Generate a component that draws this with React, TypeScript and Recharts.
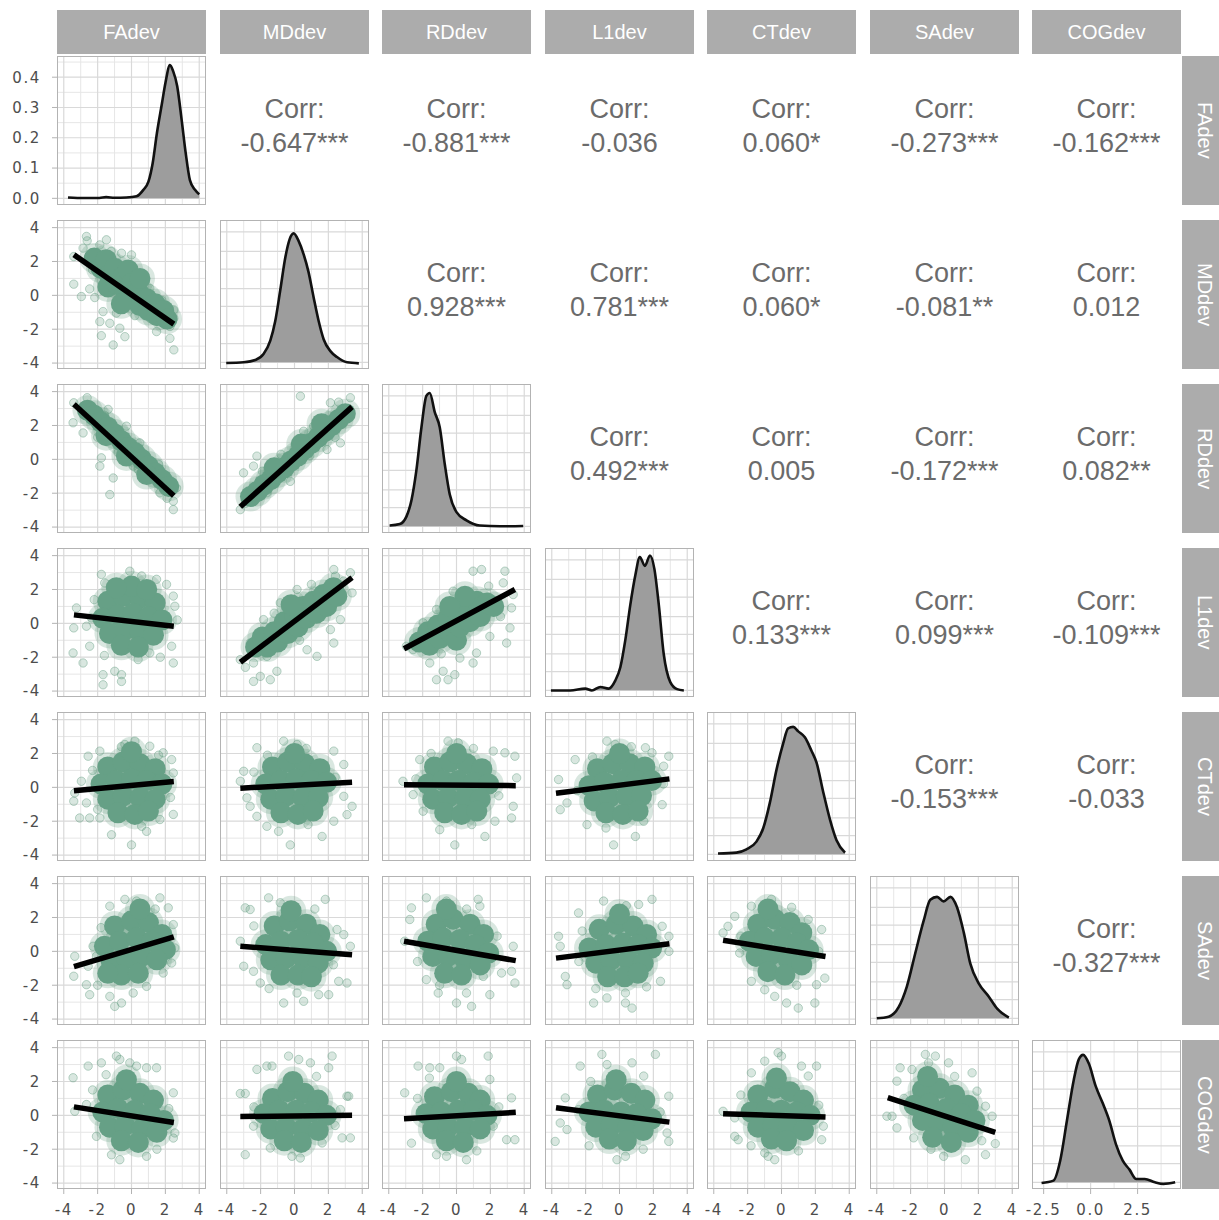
import React from 'react';
import { Area, ComposedChart, Line, ReferenceLine, Scatter, XAxis, YAxis } from 'recharts';

type Pt = [number, number];

const VARS = ['FAdev', 'MDdev', 'RDdev', 'L1dev', 'CTdev', 'SAdev', 'COGdev'];

// Corr labels of the upper triangle, one array per row
const CORR_ROW0 = ['-0.647***', '-0.881***', '-0.036', '0.060*', '-0.273***', '-0.162***'];
const CORR_ROW1 = ['0.928***', '0.781***', '0.060*', '-0.081**', '0.012'];
const CORR_ROW2 = ['0.492***', '0.005', '-0.172***', '0.082**'];
const CORR_ROW3 = ['0.133***', '0.099***', '-0.109***'];
const CORR_ROW4 = ['-0.153***', '-0.033'];
const CORR_ROW5 = ['-0.327***'];
const CORR_ROWS = [CORR_ROW0, CORR_ROW1, CORR_ROW2, CORR_ROW3, CORR_ROW4, CORR_ROW5];

const TICKS_DEV = [-4, -2, 0, 2, 4];
const TICKS_COG = [-2.5, 0, 2.5];
const TICKS_DENS = [0, 0.1, 0.2, 0.3, 0.4];

// densities on the diagonal (FAdev in real units, the others as share of panel height)
const DENS_FA: Pt[] = [[-3.75,0.003],[-2.8,0.001],[-1.9,0.001],[-1.5,0.004],[-1.0,0.002],[-0.3,0.003],[0.3,0.007],[0.7,0.028],[1.0,0.055],[1.25,0.116],[1.5,0.215],[1.8,0.314],[2.0,0.38],[2.27,0.44],[2.46,0.42],[2.7,0.37],[2.96,0.26],[3.2,0.15],[3.45,0.06],[3.75,0.028],[4.0,0.013]];
const DENS_MD: Pt[] = [[-4.03,0.04],[-3.0,0.045],[-2.32,0.06],[-1.83,0.1],[-1.43,0.19],[-1.14,0.32],[-0.84,0.53],[-0.54,0.75],[-0.29,0.87],[-0.05,0.91],[0.24,0.86],[0.54,0.77],[0.83,0.65],[1.13,0.48],[1.43,0.32],[1.72,0.2],[2.12,0.12],[2.51,0.08],[3.1,0.045],[3.8,0.038]];
const DENS_RD: Pt[] = [[-3.95,0.05],[-3.35,0.06],[-2.96,0.11],[-2.66,0.22],[-2.37,0.42],[-2.07,0.71],[-1.78,0.92],[-1.58,0.94],[-1.28,0.81],[-0.99,0.71],[-0.69,0.46],[-0.4,0.26],[0,0.14],[0.59,0.085],[1.38,0.05],[2.56,0.045],[3.94,0.047]];
const DENS_L1: Pt[] = [[-4.05,0.044],[-2.91,0.044],[-2.02,0.056],[-1.63,0.044],[-1.13,0.067],[-0.64,0.056],[-0.25,0.11],[0.05,0.2],[0.34,0.38],[0.64,0.62],[0.94,0.82],[1.2,0.94],[1.5,0.88],[1.8,0.95],[2.06,0.86],[2.32,0.62],[2.61,0.29],[3.0,0.1],[3.4,0.053],[3.8,0.044]];
const DENS_CT: Pt[] = [[-3.75,0.05],[-2.66,0.056],[-2.07,0.078],[-1.48,0.13],[-1.08,0.22],[-0.69,0.39],[-0.3,0.61],[0.1,0.79],[0.39,0.89],[0.69,0.9],[0.99,0.87],[1.38,0.83],[1.77,0.74],[2.07,0.66],[2.47,0.46],[2.86,0.28],[3.25,0.14],[3.75,0.056]];
const DENS_SA: Pt[] = [[-4.0,0.045],[-3.3,0.056],[-2.71,0.12],[-2.22,0.26],[-1.73,0.48],[-1.23,0.7],[-0.84,0.84],[-0.44,0.86],[-0.05,0.83],[0.35,0.86],[0.74,0.79],[1.14,0.62],[1.53,0.41],[2.02,0.28],[2.62,0.19],[3.11,0.11],[3.8,0.05]];
const DENS_COG: Pt[] = [[-2.61,0.04],[-1.98,0.056],[-1.62,0.19],[-1.26,0.46],[-0.9,0.73],[-0.63,0.87],[-0.4,0.9],[-0.09,0.84],[0.27,0.69],[0.63,0.58],[0.99,0.46],[1.35,0.3],[1.71,0.19],[2.07,0.13],[2.43,0.067],[2.88,0.067],[3.42,0.045],[3.87,0.034],[4.5,0.045]];

// scatter clouds: CORE = dense centre, PTS = loose points, FIT = lm line ends
const MD_FA_CORE: Pt[] = [[-2.2,2.2],[-1.8,1.6],[-1.5,2.1],[-1.3,1.2],[-1.4,0.5],[-1.0,1.6],[-0.9,0.7],[-0.5,1.1],[-0.4,0.3],[-0.2,1.5],[0,0.7],[0,-0.2],[0.4,0.2],[0.5,-0.6],[0.5,1.0],[0.9,-0.2],[1.0,-0.9],[1.4,-0.5],[1.5,-1.2],[1.9,-0.9],[2.1,-1.4],[-0.6,-0.5]];
const MD_FA_PTS: Pt[] = [[-2.66,3.48],[-2.62,3.22],[-1.48,3.28],[-1.87,2.98],[-3.41,2.29],[-2.86,2.79],[-3.41,0.66],[-2.96,-0.07],[-2.47,0.38],[-2.17,-0.13],[-0.59,2.49],[0,2.39],[-1.68,-0.96],[-1.87,-1.55],[-1.78,-2.38],[-1.08,-2.93],[-1.28,-1.65],[-0.69,-1.94],[-0.39,-2.44],[-0.89,-1.05],[1.08,-1.35],[1.48,-2.14],[2.27,-1.84],[2.27,-2.54],[2.5,-3.22],[2.5,-0.86],[2.5,-1.35],[1.08,0.42],[0.69,0.92],[-2.3,1.5],[-1.2,2.6],[1.8,-0.3],[0.2,-1.2]];
const MD_FA_FIT: Pt[] = [[-3.4,2.4],[2.5,-1.7]];

const RD_FA_CORE: Pt[] = [[-2.6,2.9],[-2.2,2.6],[-1.8,2.2],[-1.4,1.9],[-1.0,1.5],[-0.6,1.1],[-0.2,0.7],[0.2,0.4],[0.6,0.0],[1.0,-0.4],[1.4,-0.8],[1.8,-1.2],[2.2,-1.6],[-1.5,1.4],[-0.3,0.2],[0.9,-0.9]];
const RD_FA_PTS: Pt[] = [[-3.41,3.34],[-3.45,2.16],[-2.86,1.56],[-2.62,3.64],[-2.96,2.95],[-1.87,-0.4],[-1.28,-2.08],[-1.08,-1.1],[-1.78,0.09],[2.47,-2.97],[2.47,-2.47],[2.66,-1.69],[1.68,-1.98],[1.08,-1.1],[0.1,-0.4],[-1.38,2.95],[-2.27,2.75],[-0.3,1.96],[0.49,0.97],[-2.0,1.3],[-0.8,0.4],[0.4,-0.6],[1.6,-0.3],[2.1,-2.3],[-1.6,2.6]];
const RD_FA_FIT: Pt[] = [[-3.4,3.25],[2.5,-2.15]];

const RD_MD_CORE: Pt[] = [[-2.6,-2.2],[-2.2,-1.9],[-1.8,-1.5],[-1.4,-1.2],[-1.0,-0.8],[-0.6,-0.5],[-0.2,-0.1],[0.2,0.2],[0.6,0.6],[1.0,0.95],[1.4,1.3],[1.8,1.65],[2.2,2.0],[2.6,2.35],[3.0,2.7],[-1.2,-0.5],[0.4,0.9],[1.6,2.1]];
const RD_MD_PTS: Pt[] = [[-3.2,-2.97],[-2.62,-2.38],[-2.42,-0.4],[-2.22,0.19],[-3.01,-0.8],[0.35,3.73],[2.12,3.34],[2.61,3.38],[3.3,3.64],[1.13,1.96],[0.54,1.66],[1.92,0.58],[2.71,0.97],[-0.25,-1.3],[-1.63,-1.98],[-0.84,-1.0],[-1.9,-0.7],[-0.8,0.3],[0.9,0.2],[2.4,1.3],[-2.9,-2.6],[3.2,3.0]];
const RD_MD_FIT: Pt[] = [[-3.2,-2.8],[3.4,3.1]];

const L1_FA_CORE: Pt[] = [[-1.4,1.3],[-0.5,1.6],[0.5,1.5],[1.4,1.2],[-1.7,0.3],[-0.8,0.5],[0.1,0.6],[1.0,0.4],[1.8,0.2],[-1.3,-0.6],[-0.4,-0.4],[0.5,-0.5],[1.3,-0.7],[-0.6,-1.3],[0.4,-1.4],[0,2.2],[-0.9,2.1],[0.9,2.0]];
const L1_FA_PTS: Pt[] = [[-0.1,3.08],[-1.78,2.89],[-1.58,2.39],[-3.25,0.91],[-3.41,-0.27],[-3.45,-1.75],[-2.86,-2.34],[-2.47,-1.35],[-1.68,-3.03],[-1.68,-3.63],[-0.59,-3.43],[-0.59,-3.03],[-0.99,-2.83],[0.39,-2.14],[1.08,-1.75],[2.47,-2.34],[2.37,-1.35],[2.56,1.01],[2.47,1.61],[2.07,2.3],[1.48,2.6],[-2.66,-0.17],[-2.37,0.32],[-2.2,1.4],[0.6,2.8],[-1.6,-1.9],[1.7,-2.0],[2.7,0.2]];
const L1_FA_FIT: Pt[] = [[-3.4,0.5],[2.5,-0.17]];

const L1_MD_CORE: Pt[] = [[-2.3,-1.4],[-1.9,-0.8],[-1.6,-1.4],[-1.2,-0.5],[-1.0,-1.1],[-0.6,0.1],[-0.4,-0.6],[0,0.5],[0.2,-0.2],[0.5,1.0],[0.7,0.3],[1.1,1.3],[1.3,0.6],[1.7,1.7],[1.9,1.0],[2.3,2.1],[2.5,1.6],[-0.2,1.1]];
const L1_MD_PTS: Pt[] = [[2.32,3.18],[3.3,2.99],[2.42,2.79],[-2.42,-2.34],[-2.42,-3.43],[-2.02,-3.13],[-1.43,-3.33],[-1.04,-2.83],[-1.63,-1.95],[-3.2,-2.14],[-2.62,-1.16],[-1.83,0.22],[-0.84,1.21],[0.15,2.0],[2.32,-1.16],[2.12,-0.37],[2.71,0.22],[3.4,1.8],[1.33,-1.95],[0.74,-1.56],[-2.9,-2.6],[1.0,2.3],[2.9,2.5],[0.3,-1.0],[-1.2,0.6]];
const L1_MD_FIT: Pt[] = [[-3.2,-2.3],[3.4,2.7]];

const L1_RD_CORE: Pt[] = [[-2.2,-1.1],[-1.7,-0.5],[-1.6,-1.3],[-1.1,-0.1],[-1.0,-0.9],[-0.5,0.3],[-0.4,-0.5],[0,-1.0],[0.1,0.6],[0.2,-0.2],[0.7,0.9],[0.8,0.1],[1.2,1.3],[1.4,0.4],[1.8,1.2],[2.2,1.0],[0.5,1.6],[-0.4,1.0]];
const L1_RD_PTS: Pt[] = [[0.98,3.08],[1.48,3.18],[2.86,3.08],[2.76,2.39],[3.35,1.7],[3.25,0.91],[3.16,-0.27],[2.96,-1.16],[1.97,-0.77],[1.18,-1.75],[0.98,-2.34],[0.2,-2.05],[-1.18,-3.33],[-0.5,-3.33],[-0.1,-3.03],[-0.79,-2.83],[-2.56,-1.55],[-2.96,-1.35],[-2.37,-0.86],[-1.97,0.03],[-1.18,0.82],[-1.58,-2.34],[1.9,2.2],[-0.9,-1.8],[2.6,0.4],[-0.2,1.9]];
const L1_RD_FIT: Pt[] = [[-3.1,-1.5],[3.45,2.0]];

const CT_FA_CORE: Pt[] = [[-1.4,1.2],[-0.5,1.5],[0.5,1.4],[1.4,1.1],[-1.8,0.2],[-0.9,0.4],[0,0.5],[0.9,0.4],[1.8,0.2],[-1.4,-0.7],[-0.5,-0.5],[0.5,-0.6],[1.4,-0.7],[-0.8,-1.5],[0.2,-1.6],[1.0,-1.4],[0,2.1]];
const CT_FA_PTS: Pt[] = [[0.2,2.73],[-0.39,2.53],[-1.87,2.14],[-2.56,1.84],[-2.96,0.36],[-3.35,-0.33],[-3.41,-0.82],[-3.06,-1.81],[-2.47,-1.81],[-1.87,-1.81],[-1.18,-2.8],[0,-3.4],[0.89,-2.6],[1.68,-1.9],[2.47,-1.6],[2.47,0.85],[2.37,1.64],[1.87,2.04],[1.08,2.43],[-2.66,-0.92],[-2.3,1.0],[2.3,-0.6],[-0.6,2.4],[0.6,-2.3],[-2.0,-1.3],[1.6,1.9]];
const CT_FA_FIT: Pt[] = [[-3.4,-0.2],[2.5,0.35]];

const CT_MD_CORE: Pt[] = [[-1.3,1.2],[-0.4,1.5],[0.6,1.4],[1.5,1.1],[-1.7,0.2],[-0.8,0.4],[0.1,0.5],[1.0,0.4],[1.9,0.3],[-1.4,-0.7],[-0.5,-0.5],[0.5,-0.6],[1.4,-0.6],[-0.8,-1.5],[0.2,-1.6],[1.1,-1.4],[0,2.0]];
const CT_MD_PTS: Pt[] = [[-0.64,2.73],[0.15,2.53],[-2.22,2.34],[2.32,2.14],[2.91,1.35],[-3.2,0.36],[-3.0,0.95],[-2.81,-0.62],[-2.62,-1.12],[-2.22,-1.71],[-1.63,-2.3],[-0.94,-2.6],[-0.25,-3.4],[1.63,-2.9],[2.32,-2.0],[3.4,-1.12],[2.91,-0.53],[3.1,-1.61],[-2.4,0.9],[2.4,0.6],[0.7,2.3],[0.8,-2.2],[-1.6,1.9]];
const CT_MD_FIT: Pt[] = [[-3.2,-0.05],[3.4,0.3]];

const CT_RD_CORE: Pt[] = [[-1.3,1.2],[-0.4,1.5],[0.6,1.4],[1.5,1.1],[-1.7,0.2],[-0.8,0.4],[0.1,0.4],[1.0,0.3],[1.9,0.2],[-1.4,-0.7],[-0.5,-0.6],[0.5,-0.6],[1.4,-0.7],[-0.7,-1.5],[0.3,-1.6],[1.2,-1.4],[0,2.0]];
const CT_RD_PTS: Pt[] = [[-0.5,2.73],[0.1,2.63],[2.17,2.14],[2.86,2.04],[3.45,1.84],[3.55,0.56],[-3.16,0.36],[-2.56,-0.43],[-1.97,-1.41],[-0.99,-2.5],[-0.1,-3.4],[1.68,-2.9],[2.27,-2.0],[3.25,-1.81],[3.35,-1.12],[-2.17,1.64],[-2.4,0.5],[2.5,-0.5],[-1.5,2.0],[0.9,-2.2],[1.0,2.3]];
const CT_RD_FIT: Pt[] = [[-3.1,0.15],[3.5,0.1]];

const CT_L1_CORE: Pt[] = [[-1.3,1.1],[-0.4,1.4],[0.6,1.4],[1.5,1.2],[-1.8,0.1],[-0.9,0.3],[0.1,0.4],[1.0,0.4],[1.9,0.4],[-1.5,-0.8],[-0.6,-0.6],[0.4,-0.5],[1.3,-0.5],[-0.8,-1.5],[0.2,-1.6],[1.1,-1.4],[0,2.0]];
const CT_L1_PTS: Pt[] = [[-0.74,2.73],[-0.25,2.53],[-3.6,0.46],[-3.5,-1.32],[-3.1,-0.92],[-1.92,-2.2],[-0.35,-3.4],[0.94,-2.9],[1.43,-2.0],[2.52,-1.02],[2.91,1.84],[2.61,1.25],[1.92,2.04],[1.53,2.34],[-2.62,1.64],[-2.5,-0.2],[2.6,0.2],[-1.6,1.8],[-0.8,-2.4],[0.7,2.4]];
const CT_L1_FIT: Pt[] = [[-3.75,-0.35],[2.95,0.5]];

const SA_FA_CORE: Pt[] = [[-1.0,1.5],[0,1.8],[1.0,1.7],[1.8,1.0],[-1.6,0.3],[-0.7,0.6],[0.3,0.8],[1.2,0.6],[2.0,0.1],[-1.2,-0.6],[-0.3,-0.4],[0.6,-0.3],[1.5,-0.5],[-0.6,-1.4],[0.4,-1.3],[-1.4,-1.3],[0.5,2.5]];
const SA_FA_PTS: Pt[] = [[-0.39,3.07],[-1.28,2.67],[0.3,2.97],[1.68,3.16],[2.17,2.57],[2.47,1.58],[2.56,0.2],[2.37,-0.69],[-3.35,-0.29],[-3.41,-1.47],[-2.66,-1.97],[-2.47,-2.56],[-1.28,-2.66],[-0.99,-3.25],[-0.59,-3.05],[0.1,-2.46],[0.89,-2.07],[1.87,-1.28],[-2.07,-0.29],[-2.27,0.3],[-2.56,-0.88],[-1.8,1.4],[1.4,2.5],[-2.0,-2.0]];
const SA_FA_FIT: Pt[] = [[-3.4,-0.9],[2.5,0.85]];

const SA_MD_CORE: Pt[] = [[-1.2,1.5],[-0.3,1.8],[0.7,1.6],[1.5,1.0],[-1.7,0.4],[-0.8,0.6],[0.2,0.7],[1.1,0.5],[1.9,0.0],[-1.4,-0.5],[-0.5,-0.4],[0.5,-0.4],[1.4,-0.7],[-0.8,-1.4],[0.2,-1.4],[1.0,-1.5],[-0.2,2.4]];
const SA_MD_PTS: Pt[] = [[-1.53,3.16],[-0.84,2.87],[1.82,3.07],[-2.91,2.57],[-2.62,2.47],[-3.2,0.6],[-3.0,-0.88],[-2.42,-1.18],[-2.02,-1.87],[-0.64,-3.05],[0.15,-2.46],[0.54,-2.95],[1.43,-2.56],[2.02,-2.56],[2.61,-1.77],[3.1,-1.87],[3.3,0.3],[2.91,0.99],[2.51,1.29],[-2.4,1.5],[1.2,2.5],[-1.5,-2.2],[2.3,-0.8]];
const SA_MD_FIT: Pt[] = [[-3.2,0.3],[3.4,-0.2]];

const SA_RD_CORE: Pt[] = [[-1.2,1.6],[-0.2,1.9],[0.8,1.6],[1.6,1.0],[-1.7,0.6],[-0.8,0.8],[0.2,0.7],[1.1,0.4],[1.9,-0.1],[-1.4,-0.3],[-0.5,-0.3],[0.5,-0.5],[1.4,-0.8],[-0.7,-1.3],[0.3,-1.4],[-0.6,2.5]];
const SA_RD_PTS: Pt[] = [[-1.78,3.16],[-0.59,2.97],[1.28,3.07],[1.38,2.67],[-2.66,2.57],[-2.76,1.88],[-3.06,0.6],[3.35,0.3],[3.25,-1.18],[2.66,-1.28],[3.45,-1.87],[1.97,-2.56],[0.59,-2.46],[0,-3.05],[0.89,-3.25],[-1.08,-2.46],[-1.78,-1.67],[1.58,-1.48],[-2.3,-0.6],[2.4,0.9],[-1.0,-2.0],[0.6,2.5]];
const SA_RD_FIT: Pt[] = [[-3.1,0.6],[3.5,-0.55]];

const SA_L1_CORE: Pt[] = [[-1.2,1.3],[-0.2,1.6],[0.8,1.5],[1.6,1.0],[-1.8,0.2],[-0.8,0.4],[0.2,0.5],[1.1,0.4],[1.9,0.2],[-1.4,-0.7],[-0.5,-0.5],[0.5,-0.5],[1.4,-0.7],[-0.7,-1.5],[0.3,-1.5],[1.1,-1.3],[0,2.2]];
const SA_L1_PTS: Pt[] = [[-0.94,2.97],[1.92,3.07],[-2.42,2.27],[1.13,2.77],[-3.6,0.89],[-3.5,0.3],[-3.2,-1.48],[-3.1,-1.97],[-1.53,-3.05],[-0.74,-2.75],[0.35,-3.05],[0.74,-3.35],[0.35,-2.46],[2.42,-1.77],[2.92,0.0],[2.92,0.89],[2.52,1.48],[-2.4,-0.6],[-2.2,1.2],[1.6,-2.1],[-1.4,-2.2],[0.4,2.7]];
const SA_L1_FIT: Pt[] = [[-3.75,-0.4],[2.95,0.45]];

const SA_CT_CORE: Pt[] = [[-1.4,1.6],[-0.4,1.9],[0.5,1.7],[1.2,1.1],[-1.9,0.6],[-1.0,0.8],[0,0.8],[0.9,0.5],[1.6,0.1],[-1.5,-0.3],[-0.6,-0.2],[0.4,-0.5],[1.2,-0.8],[-0.8,-1.2],[0.2,-1.4],[-0.8,2.5]];
const SA_CT_PTS: Pt[] = [[-2.76,2.07],[-3.45,1.09],[-3.16,1.48],[-0.59,3.07],[-1.78,2.67],[1.58,1.88],[2.37,1.29],[2.56,-1.58],[2.07,-1.97],[1.97,-3.05],[0.99,-3.35],[0.3,-3.05],[-0.4,-2.66],[-0.99,-2.27],[-1.78,-1.77],[-2.47,-0.1],[0.6,2.6],[2.2,0.0],[-2.4,0.9],[0.9,-2.0]];
const SA_CT_FIT: Pt[] = [[-3.45,0.65],[2.6,-0.3]];

const COG_FA_CORE: Pt[] = [[-1.4,1.2],[-0.5,1.5],[0.5,1.3],[1.3,0.9],[-1.7,0.2],[-0.8,0.4],[0.2,0.3],[1.1,0.1],[1.9,-0.3],[-1.3,-0.7],[-0.4,-0.6],[0.6,-0.8],[1.5,-1.0],[-0.6,-1.5],[0.4,-1.6],[-0.3,2.1]];
const COG_FA_PTS: Pt[] = [[-3.45,2.22],[-3.35,0.24],[-2.56,2.91],[-1.78,3.1],[-0.89,3.5],[-0.69,3.3],[-0.1,3.1],[0.89,2.81],[1.48,2.81],[0.3,2.91],[2.47,1.33],[2.56,-1.04],[2.47,-1.34],[-1.18,-2.33],[-0.69,-2.62],[0.89,-2.42],[-2.66,0.64],[-2.07,-1.24],[-2.3,1.5],[2.2,0.4],[1.5,-2.0],[-1.5,2.4]];
const COG_FA_FIT: Pt[] = [[-3.4,0.5],[2.5,-0.42]];

const COG_MD_CORE: Pt[] = [[-1.3,1.0],[-0.4,1.4],[0.6,1.3],[1.4,0.9],[-1.8,0.1],[-0.9,0.3],[0.1,0.3],[1.0,0.2],[1.9,0.0],[-1.4,-0.8],[-0.5,-0.7],[0.5,-0.8],[1.4,-0.9],[-0.6,-1.5],[0.4,-1.6],[-0.1,2.0]];
const COG_MD_PTS: Pt[] = [[-3.2,1.29],[-2.91,1.29],[-2.22,2.71],[-1.63,2.91],[-1.33,2.91],[-0.35,3.5],[0.25,3.3],[0.94,3.1],[2.22,3.5],[2.02,2.81],[3.1,1.13],[3.2,1.13],[2.71,0.34],[3.3,-1.33],[2.81,-1.33],[-2.91,-2.32],[-2.42,-0.64],[-0.15,-2.42],[0.34,-2.52],[-1.43,-1.93],[1.63,-1.63],[-2.4,0.5],[1.3,2.3],[2.4,-0.6]];
const COG_MD_FIT: Pt[] = [[-3.2,-0.07],[3.4,0.0]];

const COG_RD_CORE: Pt[] = [[-1.3,1.1],[-0.3,1.4],[0.7,1.3],[1.4,0.9],[-1.8,0.1],[-0.9,0.2],[0.1,0.3],[1.0,0.3],[1.8,0.0],[-1.4,-0.8],[-0.5,-0.7],[0.5,-0.7],[1.4,-0.8],[-0.6,-1.5],[0.4,-1.6],[0,2.0]];
const COG_RD_PTS: Pt[] = [[-2.27,2.91],[-1.58,2.81],[-0.99,2.81],[0,3.5],[0.3,3.3],[1.87,3.5],[1.97,2.12],[3.25,1.03],[3.45,-1.44],[2.96,-1.44],[0.59,-2.62],[-0.59,-2.42],[-1.18,-2.33],[-3.06,1.33],[-2.66,-1.64],[-1.78,-0.25],[2.17,-0.64],[-2.3,1.0],[2.5,0.5],[1.2,-2.1],[-1.6,2.2]];
const COG_RD_FIT: Pt[] = [[-3.1,-0.2],[3.5,0.18]];

const COG_L1_CORE: Pt[] = [[-1.3,1.2],[-0.3,1.5],[0.7,1.3],[1.5,0.9],[-1.8,0.2],[-0.9,0.3],[0.1,0.2],[1.0,0.1],[1.9,-0.2],[-1.4,-0.7],[-0.5,-0.6],[0.5,-0.7],[1.4,-0.9],[-0.6,-1.4],[0.4,-1.5],[-0.2,2.1]];
const COG_L1_PTS: Pt[] = [[-1.04,3.6],[-0.74,3.0],[-2.32,2.91],[0.74,3.1],[2.12,3.6],[1.43,2.32],[-3.2,1.03],[-3.5,-0.45],[-3.8,-1.54],[-3.1,-0.84],[2.91,1.13],[2.81,-1.04],[2.91,-1.54],[-0.15,-2.62],[0.35,-2.42],[-2.42,0.34],[-1.8,-1.8],[1.4,-2.0],[2.4,0.2],[-1.7,2.0]];
const COG_L1_FIT: Pt[] = [[-3.75,0.45],[2.95,-0.4]];

const COG_CT_CORE: Pt[] = [[-1.4,1.2],[-0.4,1.6],[0.5,1.4],[1.3,0.9],[-1.8,0.2],[-0.9,0.3],[0,0.3],[0.9,0.2],[1.7,0.0],[-1.4,-0.7],[-0.5,-0.6],[0.4,-0.7],[1.3,-0.9],[-0.6,-1.4],[0.3,-1.5],[-0.3,2.2]];
const COG_CT_PTS: Pt[] = [[-0.2,3.7],[0,3.5],[-0.99,3.2],[-1.78,2.51],[1.18,2.91],[1.58,2.32],[2.07,2.91],[-3.45,0.24],[-2.76,-0.15],[-2.76,-1.24],[-2.56,-1.44],[2.47,-0.64],[2.37,-1.44],[-0.79,-2.42],[-0.4,-2.62],[-0.99,-2.22],[-2.4,1.2],[2.2,0.6],[1.0,-2.1],[-1.8,-1.8]];
const COG_CT_FIT: Pt[] = [[-3.45,0.1],[2.6,-0.1]];

const COG_SA_CORE: Pt[] = [[-1.3,1.5],[-0.3,1.6],[0.6,1.2],[1.4,0.6],[-1.8,0.6],[-0.9,0.7],[0.1,0.4],[1.0,0.1],[1.8,-0.3],[-1.3,-0.3],[-0.4,-0.4],[0.5,-0.7],[1.4,-1.0],[-0.7,-1.3],[0.4,-1.6],[-1.0,2.3]];
const COG_SA_PTS: Pt[] = [[-1.13,3.6],[-0.54,3.5],[-0.94,3.1],[0.24,3.1],[-2.62,2.81],[-1.92,2.71],[1.63,2.51],[-2.81,2.02],[-3.4,-0.05],[-3.1,-0.05],[-2.81,-0.74],[-1.82,-1.33],[-0.05,-2.42],[1.23,-2.62],[2.42,-2.32],[3.0,-1.67],[2.81,-0.05],[2.42,0.54],[1.92,1.43],[-2.4,1.0],[0.6,2.3],[-0.8,-2.0],[2.2,-1.5]];
const COG_SA_FIT: Pt[] = [[-3.35,1.05],[3.0,-1.0]];

const SCATTERS = [
  { r: 1, c: 0, core: MD_FA_CORE, pts: MD_FA_PTS, fit: MD_FA_FIT },
  { r: 2, c: 0, core: RD_FA_CORE, pts: RD_FA_PTS, fit: RD_FA_FIT },
  { r: 2, c: 1, core: RD_MD_CORE, pts: RD_MD_PTS, fit: RD_MD_FIT },
  { r: 3, c: 0, core: L1_FA_CORE, pts: L1_FA_PTS, fit: L1_FA_FIT },
  { r: 3, c: 1, core: L1_MD_CORE, pts: L1_MD_PTS, fit: L1_MD_FIT },
  { r: 3, c: 2, core: L1_RD_CORE, pts: L1_RD_PTS, fit: L1_RD_FIT },
  { r: 4, c: 0, core: CT_FA_CORE, pts: CT_FA_PTS, fit: CT_FA_FIT },
  { r: 4, c: 1, core: CT_MD_CORE, pts: CT_MD_PTS, fit: CT_MD_FIT },
  { r: 4, c: 2, core: CT_RD_CORE, pts: CT_RD_PTS, fit: CT_RD_FIT },
  { r: 4, c: 3, core: CT_L1_CORE, pts: CT_L1_PTS, fit: CT_L1_FIT },
  { r: 5, c: 0, core: SA_FA_CORE, pts: SA_FA_PTS, fit: SA_FA_FIT },
  { r: 5, c: 1, core: SA_MD_CORE, pts: SA_MD_PTS, fit: SA_MD_FIT },
  { r: 5, c: 2, core: SA_RD_CORE, pts: SA_RD_PTS, fit: SA_RD_FIT },
  { r: 5, c: 3, core: SA_L1_CORE, pts: SA_L1_PTS, fit: SA_L1_FIT },
  { r: 5, c: 4, core: SA_CT_CORE, pts: SA_CT_PTS, fit: SA_CT_FIT },
  { r: 6, c: 0, core: COG_FA_CORE, pts: COG_FA_PTS, fit: COG_FA_FIT },
  { r: 6, c: 1, core: COG_MD_CORE, pts: COG_MD_PTS, fit: COG_MD_FIT },
  { r: 6, c: 2, core: COG_RD_CORE, pts: COG_RD_PTS, fit: COG_RD_FIT },
  { r: 6, c: 3, core: COG_L1_CORE, pts: COG_L1_PTS, fit: COG_L1_FIT },
  { r: 6, c: 4, core: COG_CT_CORE, pts: COG_CT_PTS, fit: COG_CT_FIT },
  { r: 6, c: 5, core: COG_SA_CORE, pts: COG_SA_PTS, fit: COG_SA_FIT },
];

const DIAGS = [DENS_FA, DENS_MD, DENS_RD, DENS_L1, DENS_CT, DENS_SA, DENS_COG];

// layout
const PW = 149;
const PH = 149;
const AXW = 57;
const AXH = 32;
const PAD = 14;
const colLeft = (c: number) => Math.round(57 + 162.5 * c);
const rowTop = (r: number) => 56 + 164 * r;

const X_DOM: [number, number] = [-4.4, 4.4];
const Y_DOM: [number, number] = [-4.35, 4.45];
const COG_DOM: [number, number] = [-3.12, 4.81];
const FA_DENS_DOM: [number, number] = [-0.022, 0.47];
const UNIT_DOM: [number, number] = [0, 1];

const GRID_MAJOR = [-4, -2, 0, 2, 4];
const GRID_MINOR = [-3, -1, 1, 3];
const COG_MAJOR = [-2.5, 0, 2.5];
const COG_MINOR = [-1.25, 1.25, 3.75];
const FA_H_MAJOR = [0, 0.1, 0.2, 0.3, 0.4];
const FA_H_MINOR = [0.05, 0.15, 0.25, 0.35, 0.45];
const DIAG_H = [0.045, 0.17, 0.29, 0.42, 0.54, 0.67, 0.79, 0.92];

const GREEN = '#5f9a7f';
const SOLID = '#66a086';
const MAJ = '#d9d9d9';
const MIN = '#e6e6e6';
const TICK = { fontSize: 15, fill: '#4d4d4d', fontFamily: '"DejaVu Sans", sans-serif', letterSpacing: 1.6 };
const SANS = '"Liberation Sans", Arial, sans-serif';
const NO_MARGIN = { top: 0, right: 0, bottom: 0, left: 0 };

const toXY = (a: Pt[]) => a.map(([x, y]) => ({ x, y }));
const fmt1 = (v: number) => v.toFixed(1);

function gridLines(vMaj: number[], vMin: number[], hMaj: number[], hMin: number[]) {
  return [
    ...vMin.map((v) => <ReferenceLine key={'vn' + v} x={v} stroke={MIN} strokeWidth={1} ifOverflow="hidden" />),
    ...hMin.map((v) => <ReferenceLine key={'hn' + v} y={v} stroke={MIN} strokeWidth={1} ifOverflow="hidden" />),
    ...vMaj.map((v) => <ReferenceLine key={'vm' + v} x={v} stroke={MAJ} strokeWidth={1.2} ifOverflow="hidden" />),
    ...hMaj.map((v) => <ReferenceLine key={'hm' + v} y={v} stroke={MAJ} strokeWidth={1.2} ifOverflow="hidden" />),
  ];
}

const layer: React.CSSProperties = { position: 'absolute', left: 0, top: 0 };

// axes + grid, drawn behind the marks; the chart is padded so that tick labels are never clipped
function BackChart({
  r, c, xDom, yDom, xTicks, yTicks, xFmt, yFmt, vMaj, vMin, hMaj, hMin,
}: {
  r: number; c: number; xDom: [number, number]; yDom: [number, number];
  xTicks: number[]; yTicks?: number[]; xFmt?: (v: number) => string; yFmt?: (v: number) => string;
  vMaj: number[]; vMin: number[]; hMaj: number[]; hMin: number[];
}) {
  const showX = r === 6;
  const showY = c === 0;
  const left = showY ? AXW + 4 : PAD;
  const bottom = showX ? AXH + 4 : PAD;
  const w = PW + left + PAD;
  const h = PH + PAD + bottom;
  return (
    <div style={{ position: 'absolute', left: -left, top: -PAD }}>
      <ComposedChart
        width={w} height={h}
        margin={{ top: PAD, right: PAD, bottom: showX ? 4 : PAD, left: showY ? 4 : PAD }}
      >
        <XAxis
          type="number" dataKey="x" domain={xDom} ticks={xTicks} allowDataOverflow
          hide={!showX} height={AXH} axisLine={false} tickLine={{ stroke: '#b3b3b3' }}
          tickSize={5} tickMargin={10} tick={TICK} interval={0} tickFormatter={xFmt}
        />
        <YAxis
          type="number" dataKey="y" domain={yDom} ticks={yTicks} allowDataOverflow
          hide={!showY} width={AXW} axisLine={false} tickLine={{ stroke: '#b3b3b3' }}
          tickSize={5} tickMargin={11} tick={TICK} interval={0} tickFormatter={yFmt}
        />
        {gridLines(vMaj, vMin, hMaj, hMin)}
      </ComposedChart>
    </div>
  );
}

function Frame() {
  return (
    <div
      style={{
        position: 'absolute', left: 0, top: 0, width: PW, height: PH,
        border: '1px solid #b3b3b3', boxSizing: 'border-box', pointerEvents: 'none',
      }}
    />
  );
}

// one transparent chart layer on the panel, sharing the panel's scales
function MarkLayer({ children }: { children: React.ReactNode }) {
  return (
    <div style={layer}>
      <ComposedChart width={PW} height={PH} margin={NO_MARGIN}>
        <XAxis type="number" dataKey="x" domain={X_DOM} hide allowDataOverflow />
        <YAxis type="number" dataKey="y" domain={Y_DOM} hide allowDataOverflow />
        {children}
      </ComposedChart>
    </div>
  );
}

function ScatterPanel({ r, c, core, pts, fit }: { r: number; c: number; core: Pt[]; pts: Pt[]; fit: Pt[] }) {
  const coreXY = toXY(core);
  return (
    <div style={{ position: 'absolute', left: colLeft(c), top: rowTop(r), width: PW, height: PH }}>
      <BackChart
        r={r} c={c} xDom={X_DOM} yDom={Y_DOM} xTicks={TICKS_DEV} yTicks={TICKS_DEV}
        vMaj={GRID_MAJOR} vMin={GRID_MINOR} hMaj={GRID_MAJOR} hMin={GRID_MINOR}
      />
      <MarkLayer>
        <Scatter
          data={toXY(pts)} isAnimationActive={false}
          shape={(p: any) => (
            <circle cx={p.cx} cy={p.cy} r={4.2} fill={GREEN} fillOpacity={0.24} stroke={GREEN} strokeOpacity={0.42} strokeWidth={1} />
          )}
        />
        <Scatter
          data={coreXY} isAnimationActive={false}
          shape={(p: any) => <circle cx={p.cx} cy={p.cy} r={15} fill={GREEN} fillOpacity={0.24} />}
        />
      </MarkLayer>
      <MarkLayer>
        <Scatter
          data={coreXY} isAnimationActive={false}
          shape={(p: any) => <circle cx={p.cx} cy={p.cy} r={10.5} fill={SOLID} />}
        />
      </MarkLayer>
      <MarkLayer>
        <Line
          data={toXY(fit)} dataKey="y" type="linear" stroke="#000" strokeWidth={5.5}
          dot={false} activeDot={false} isAnimationActive={false}
        />
      </MarkLayer>
      <Frame />
    </div>
  );
}

function DiagPanel({ i }: { i: number }) {
  const cog = i === 6;
  const fa = i === 0;
  const xDom = cog ? COG_DOM : X_DOM;
  const yDom = fa ? FA_DENS_DOM : UNIT_DOM;
  return (
    <div style={{ position: 'absolute', left: colLeft(i), top: rowTop(i), width: PW, height: PH }}>
      <BackChart
        r={i} c={i} xDom={xDom} yDom={yDom}
        xTicks={cog ? TICKS_COG : TICKS_DEV} yTicks={fa ? TICKS_DENS : undefined}
        xFmt={cog ? fmt1 : undefined} yFmt={fmt1}
        vMaj={cog ? COG_MAJOR : GRID_MAJOR} vMin={cog ? COG_MINOR : GRID_MINOR}
        hMaj={fa ? FA_H_MAJOR : DIAG_H} hMin={fa ? FA_H_MINOR : []}
      />
      <div style={layer}>
        <ComposedChart data={toXY(DIAGS[i])} width={PW} height={PH} margin={NO_MARGIN}>
          <XAxis type="number" dataKey="x" domain={xDom} hide allowDataOverflow />
          <YAxis type="number" domain={yDom} hide allowDataOverflow />
          <Area
            dataKey="y" type="monotone" fill="#9d9d9d" fillOpacity={1} stroke="none"
            baseValue={fa ? 0 : 0.045} isAnimationActive={false}
          />
          <Line
            dataKey="y" type="monotone" stroke="#111" strokeWidth={2.6}
            dot={false} activeDot={false} isAnimationActive={false}
          />
        </ComposedChart>
      </div>
      <Frame />
    </div>
  );
}

function CorrPanel({ r, c }: { r: number; c: number }) {
  const line = (top: number, text: string) => (
    <div style={{ position: 'absolute', left: -20, right: -20, top, height: 30, lineHeight: '30px', textAlign: 'center' }}>
      {text}
    </div>
  );
  return (
    <div
      style={{
        position: 'absolute', left: colLeft(c), top: rowTop(r), width: PW, height: PH,
        fontFamily: SANS, fontSize: 27, color: '#6b6b6b', whiteSpace: 'nowrap',
      }}
    >
      {line(38, 'Corr:')}
      {line(72, CORR_ROWS[r][c - r - 1])}
    </div>
  );
}

export default function App() {
  const cells: React.ReactNode[] = [];
  for (let r = 0; r < 7; r++) {
    for (let c = 0; c < 7; c++) {
      if (c > r) cells.push(<CorrPanel key={`u${r}${c}`} r={r} c={c} />);
    }
  }
  return (
    <div
      style={{
        position: 'absolute', left: 0, top: 0, width: 1219, height: 1220,
        background: '#fff', overflow: 'hidden',
      }}
    >
      {VARS.map((v, i) => (
        <div
          key={'top' + v}
          style={{
            position: 'absolute', left: colLeft(i), top: 10, width: PW, height: 44,
            background: '#acacac', color: '#fff', fontFamily: SANS, fontSize: 20,
            lineHeight: '44px', textAlign: 'center',
          }}
        >
          {v}
        </div>
      ))}
      {VARS.map((v, i) => (
        <div
          key={'side' + v}
          style={{
            position: 'absolute', left: 1182, top: rowTop(i), width: 44, height: PH,
            background: '#acacac', color: '#fff', fontFamily: SANS, fontSize: 20,
            display: 'flex', alignItems: 'center', justifyContent: 'center',
          }}
        >
          <span style={{ writingMode: 'vertical-rl' }}>{v}</span>
        </div>
      ))}
      {cells}
      {VARS.map((v, i) => <DiagPanel key={'d' + v} i={i} />)}
      {SCATTERS.map((s) => <ScatterPanel key={`s${s.r}${s.c}`} {...s} />)}
    </div>
  );
}
